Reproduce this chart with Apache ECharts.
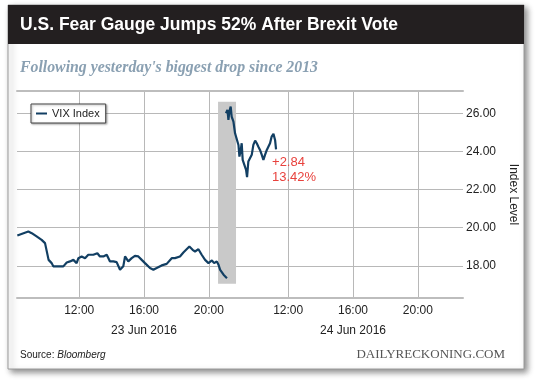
<!DOCTYPE html>
<html><head><meta charset="utf-8">
<script src="https://cdn.jsdelivr.net/npm/echarts@6/dist/echarts.min.js"></script>
<style>html,body{margin:0;padding:0;background:#fff}#c{width:540px;height:382px}</style>
</head><body><div id="c"></div>
<script>
const titleText = 'U.S. Fear Gauge Jumps 52% After Brexit Vote';
const subtitleText = "Following yesterday's biggest drop since 2013";
const sourceLabel = 'Source: ';
const sourceName = 'Bloomberg';
const brandText = 'DAILYRECKONING.COM';
const seriesName = 'VIX Index';
const yAxisName = 'Index Level';
const dates = ['23 Jun 2016', '24 Jun 2016'];
const tickHours = [12, 16, 20];
const dateLabelHour = 16;
const yTicks = [18, 20, 22, 24, 26];

// clock hours (decimal) and VIX values, session of 23 Jun
const day1Hours = [8.18,8.86,9.07,9.37,9.68,9.89,9.99,10.11,10.30,10.40,10.71,11.02,11.23,11.43,11.64,11.84,11.95,12.15,12.36,12.56,12.87,13.12,13.28,13.49,13.70,13.90,14.11,14.31,14.52,14.72,14.83,15.03,15.24,15.44,15.65,15.86,16.06,16.37,16.58,16.78,17.09,17.40,17.71,17.91,18.22,18.43,18.63,18.80,19.00,19.15,19.36,19.56,19.77,19.98,20.19,20.33,20.49,20.60,20.70,20.91,21.12];
const day1Values = [19.59,19.80,19.71,19.54,19.36,19.19,19.10,18.31,18.14,17.97,17.97,17.97,18.17,18.23,18.31,18.14,18.40,18.49,18.40,18.58,18.58,18.66,18.49,18.49,18.58,18.23,18.23,18.19,17.79,17.97,18.49,18.23,18.40,18.52,18.49,18.31,18.14,17.88,17.79,17.88,18.02,18.10,18.40,18.40,18.49,18.70,18.87,19.01,18.84,18.75,18.87,18.58,18.31,18.14,18.28,18.14,18.23,18.05,17.79,17.53,17.35];
// session of 24 Jun
const day2Hours = [8.16,8.25,8.31,8.37,8.45,8.51,8.62,8.72,8.82,8.93,8.99,9.07,9.13,9.19,9.30,9.40,9.46,9.54,9.65,9.75,9.85,9.96,10.06,10.16,10.26,10.37,10.47,10.57,10.68,10.78,10.88,10.98,11.09,11.19,11.25];
const day2Values = [26.00,26.18,25.65,26.09,26.35,25.83,25.56,24.95,24.87,24.34,23.73,24.08,24.43,23.56,23.47,23.03,22.65,23.47,23.56,23.82,24.34,24.57,24.43,24.25,24.08,23.82,23.56,23.82,24.08,24.17,24.43,24.78,24.92,24.60,24.11];

const changePoints = 2.84;
const changePct = 13.42;
// shaded window around the overnight gap
const highlightStartDay1 = 20.57;
const highlightEndDay2 = 8.78;
const highlightLow = 17.06;
const highlightHigh = 26.6;

// compressed axis: day-2 clock hours shifted onto the same axis
const sessionShift = 12.9;
const pos = (day, h) => h + day * sessionShift;

const tickPositions = [];
const tickLabelMap = [];
dates.forEach((d, di) => tickHours.forEach(h => {
  const p = pos(di, h);
  tickPositions.push(p);
  const t = (h < 10 ? '0' : '') + h + ':00';
  tickLabelMap.push({ p, label: h === dateLabelHour ? t + '\n' + d : t });
}));

const font = 'Liberation Sans, Arial, Helvetica, sans-serif';
const chart = echarts.init(document.getElementById('c'));
chart.setOption({
  animation: false,
  textStyle: { fontFamily: font },
  graphic: [
    { type: 'rect', z: -10, shape: { x: 8, y: 5, width: 516, height: 364 },
      style: { fill: '#fff', stroke: '#9a9a9a', lineWidth: 1, shadowBlur: 6, shadowOffsetX: 3, shadowOffsetY: 3, shadowColor: 'rgba(0,0,0,0.45)' } },
    { type: 'rect', z: -9, shape: { x: 8, y: 5, width: 516, height: 39 }, style: { fill: '#231f20' } },
    { type: 'text', z: 5, style: { x: 20, y: 25, text: titleText, fill: '#fff', font: 'bold 17.5px ' + font, verticalAlign: 'middle' } },
    { type: 'text', z: 5, style: { x: 20, y: 68, text: subtitleText, fill: '#8aa0b2', font: 'italic bold 15.8px Liberation Serif, serif', verticalAlign: 'middle' } },
    { type: 'text', z: 5, style: { x: 20, y: 355, text: '{a|' + sourceLabel + '}{b|' + sourceName + '}', verticalAlign: 'middle',
      rich: { a: { fontSize: 10, fontFamily: font, fill: '#222' }, b: { fontSize: 10, fontFamily: font, fontStyle: 'italic', fill: '#222' } } } },
    { type: 'text', z: 5, style: { x: 505, y: 355, text: brandText, fill: '#555', font: '13px Liberation Serif, serif', align: 'right', verticalAlign: 'middle' } }
  ],
  legend: {
    data: [seriesName], left: 31, top: 104, padding: [4, 6, 4, 5],
    backgroundColor: '#fff', borderColor: '#444', borderWidth: 1,
    shadowBlur: 2, shadowColor: 'rgba(0,0,0,0.3)', shadowOffsetX: 1, shadowOffsetY: 1,
    icon: 'rect', itemWidth: 11, itemHeight: 2,
    textStyle: { fontSize: 11, color: '#222', fontFamily: font }
  },
  grid: { left: 17, right: 77, top: 91, bottom: 84 },
  xAxis: [{
    type: 'value', min: 8.16, max: 35.69, position: 'bottom',
    axisLine: { show: true, lineStyle: { color: '#bdbdbd', width: 2 } },
    axisTick: { show: false, customValues: tickPositions },
    splitLine: { show: true, lineStyle: { color: '#b8b8b8', width: 1 } },
    axisLabel: { customValues: tickPositions, fontSize: 12, color: '#222', margin: 3, lineHeight: 20,
      formatter: v => { const m = tickLabelMap.find(o => Math.abs(o.p - v) < 1e-6); return m ? m.label : ''; } }
  }, {
    type: 'value', min: 8.16, max: 35.69, position: 'top',
    axisLine: { show: true, lineStyle: { color: '#bdbdbd', width: 2 } },
    axisTick: { show: false }, axisLabel: { show: false }, splitLine: { show: false }
  }],
  yAxis: {
    type: 'value', position: 'right', min: 16.31, max: 27.17,
    name: yAxisName, nameLocation: 'middle', nameRotate: -90, nameGap: 42,
    nameTextStyle: { fontSize: 12, color: '#222', fontFamily: font },
    axisLine: { show: false },
    axisTick: { show: false, customValues: yTicks },
    splitLine: { show: true, lineStyle: { color: '#b8b8b8', width: 1 } },
    axisLabel: { customValues: yTicks, fontSize: 12, color: '#222', margin: 3, formatter: v => v.toFixed(2) }
  },
  series: [{
    name: seriesName, type: 'line', showSymbol: false, symbol: 'none',
    data: day1Hours.map((h, i) => [pos(0, h), day1Values[i]]),
    lineStyle: { color: '#123f63', width: 2.2 }, itemStyle: { color: '#123f63' },
    markArea: { silent: true, itemStyle: { color: '#c9c9c9' },
      data: [[{ coord: [pos(0, highlightStartDay1), highlightHigh] }, { coord: [pos(1, highlightEndDay2), highlightLow] }]] }
  }, {
    name: seriesName, type: 'line', showSymbol: false, symbol: 'none',
    data: day2Hours.map((h, i) => [pos(1, h), day2Values[i]]),
    lineStyle: { color: '#123f63', width: 2.2 }, itemStyle: { color: '#123f63' },
    markPoint: { symbol: 'circle', symbolSize: 0, silent: true,
      data: [{ coord: [pos(1, day2Hours[day2Hours.length - 1]), day2Values[day2Values.length - 1]] }],
      label: { show: true, position: [-4, 6], align: 'left', verticalAlign: 'top', lineHeight: 15, fontSize: 13, color: '#e8423d', fontFamily: font,
        formatter: () => '+' + changePoints.toFixed(2) + '\n' + changePct.toFixed(2) + '%' } }
  }]
});
</script></body></html>
